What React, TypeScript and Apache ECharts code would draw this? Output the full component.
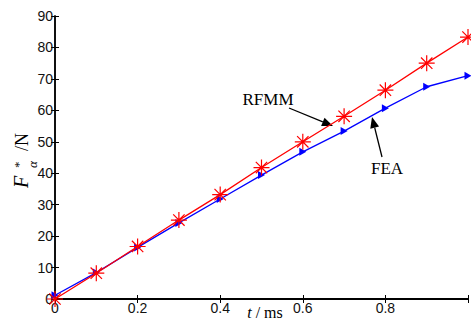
import React, { useEffect, useRef } from "react";
import * as echarts from "echarts";

const tValues = [0, 0.1, 0.2, 0.3, 0.4, 0.5, 0.6, 0.7, 0.8, 0.9, 1.0];
const rfmmValues = [0, 8.2, 16.7, 25.1, 33.2, 41.8, 50.0, 58.1, 66.4, 75.0, 83.3];
const feaValues = [1.2, 8.4, 16.4, 24.2, 31.8, 39.4, 46.8, 53.4, 60.7, 67.5, 71.0];
const xTickLabels = ["0", "0.2", "0.4", "0.6", "0.8", ""];
const yTickLabels = ["0", "10", "20", "30", "40", "50", "60", "70", "80", "90"];
const seriesNames = ["FEA", "RFMM"];

const STAR = "path://M8,0L8,16M0,8L16,8M2.3,2.3L13.7,13.7M2.3,13.7L13.7,2.3";
const TRI = "path://M0,0L10,5L0,10Z";

export default function App() {
  const ref = useRef<HTMLDivElement>(null);
  useEffect(() => {
    if (!ref.current) return;
    const chart = echarts.init(ref.current, null, { renderer: "svg" });
    const tickFont = {
      fontFamily: "Liberation Sans, Arial, sans-serif",
      fontSize: 14,
      color: "#111",
    };
    const axisLine = { show: true, lineStyle: { color: "#000", width: 1.5 } };
    const axisTick = { show: true, inside: true, length: 4, lineStyle: { color: "#000", width: 1 } };
    const serif = "Liberation Serif, Times New Roman, serif";

    const arrow = (x1: number, y1: number, x2: number, y2: number) => {
      const dx = x2 - x1, dy = y2 - y1;
      const len = Math.sqrt(dx * dx + dy * dy);
      const ux = dx / len, uy = dy / len;
      const bx = x2 - 11 * ux, by = y2 - 11 * uy;
      const px = -uy * 4.5, py = ux * 4.5;
      return [
        { type: "line", shape: { x1, y1, x2: bx, y2: by }, style: { stroke: "#000", lineWidth: 1.3 } },
        {
          type: "polygon",
          shape: { points: [[x2, y2], [bx + px, by + py], [bx - px, by - py]] },
          style: { fill: "#000" },
        },
      ];
    };

    chart.setOption({
      animation: false,
      grid: { left: 55, top: 16, right: -3, bottom: 21 },
      xAxis: [
        {
          type: "value",
          min: 0,
          max: 1,
          interval: 0.2,
          axisLine: { ...axisLine, lineStyle: { color: "#000", width: 2 } },
          axisTick,
          splitLine: { show: false },
          axisLabel: {
            ...tickFont,
            margin: 2,
            formatter: (v: number) => xTickLabels[Math.round(v / 0.2)] ?? "",
          },
        },
        {
          type: "value",
          position: "top",
          min: 0,
          max: 1,
          interval: 0.2,
          axisLine,
          axisTick,
          splitLine: { show: false },
          axisLabel: { show: false },
        },
      ],
      yAxis: [
        {
          type: "value",
          min: 0,
          max: 90,
          interval: 10,
          axisLine,
          axisTick,
          splitLine: { show: false },
          axisLabel: {
            ...tickFont,
            margin: 2,
            formatter: (v: number) => yTickLabels[Math.round(v / 10)] ?? "",
          },
        },
        {
          type: "value",
          position: "right",
          min: 0,
          max: 90,
          interval: 10,
          axisLine,
          axisTick,
          splitLine: { show: false },
          axisLabel: { show: false },
        },
      ],
      series: [
        {
          name: seriesNames[0],
          type: "line",
          data: tValues.map((t, i) => [t, feaValues[i]]),
          symbol: TRI,
          symbolSize: [7, 8],
          showSymbol: true,
          clip: false,
          lineStyle: { color: "#0000ff", width: 1.3 },
          itemStyle: { color: "#0000ff" },
          z: 2,
        },
        {
          name: seriesNames[1],
          type: "line",
          data: tValues.map((t, i) => [t, rfmmValues[i]]),
          symbol: STAR,
          symbolSize: 16,
          showSymbol: true,
          clip: false,
          lineStyle: { color: "#ff0000", width: 1.3 },
          itemStyle: { color: "#ff0000", borderColor: "#ff0000", borderWidth: 1.2 },
          z: 3,
        },
      ],
      graphic: [
        {
          type: "text",
          x: 268,
          y: 99,
          style: {
            text: "RFMM",
            fontFamily: serif,
            fontSize: 17,
            fill: "#000",
            align: "center",
            verticalAlign: "middle",
          },
        },
        {
          type: "text",
          x: 387,
          y: 168,
          style: {
            text: "FEA",
            fontFamily: serif,
            fontSize: 17,
            fill: "#000",
            align: "center",
            verticalAlign: "middle",
          },
        },
        ...arrow(289, 108, 333, 126),
        ...arrow(382, 157, 372, 117),
        {
          type: "text",
          x: 265,
          y: 320,
          style: {
            text: "{t|t} / ms",
            fontFamily: serif,
            fontSize: 16,
            fill: "#000",
            align: "center",
            verticalAlign: "bottom",
            rich: { t: { fontStyle: "italic", fontFamily: serif, fontSize: 16 } },
          },
        },
        {
          type: "group",
          x: 27,
          y: 157,
          rotation: Math.PI / 2,
          children: [
            {
              type: "text",
              x: -31,
              y: -6,
              style: {
                text: "F",
                fontFamily: serif,
                fontStyle: "italic",
                fontSize: 20,
                fill: "#000",
                align: "left",
                verticalAlign: "middle",
              },
            },
            {
              type: "text",
              x: -11,
              y: 5,
              style: {
                text: "α",
                fontFamily: serif,
                fontStyle: "italic",
                fontSize: 13,
                fill: "#000",
                align: "left",
                verticalAlign: "middle",
              },
            },
            {
              type: "text",
              x: -11,
              y: -9,
              style: {
                text: "*",
                fontFamily: serif,
                fontSize: 13,
                fill: "#000",
                align: "left",
                verticalAlign: "middle",
              },
            },
            {
              type: "text",
              x: 6,
              y: -5,
              style: {
                text: "/N",
                fontFamily: serif,
                fontSize: 18,
                fill: "#000",
                align: "left",
                verticalAlign: "middle",
              },
            },
          ],
        },
      ],
    });
    return () => chart.dispose();
  }, []);
  return <div ref={ref} style={{ width: 471, height: 320, position: "absolute", left: 0, top: 0 }} />;
}
